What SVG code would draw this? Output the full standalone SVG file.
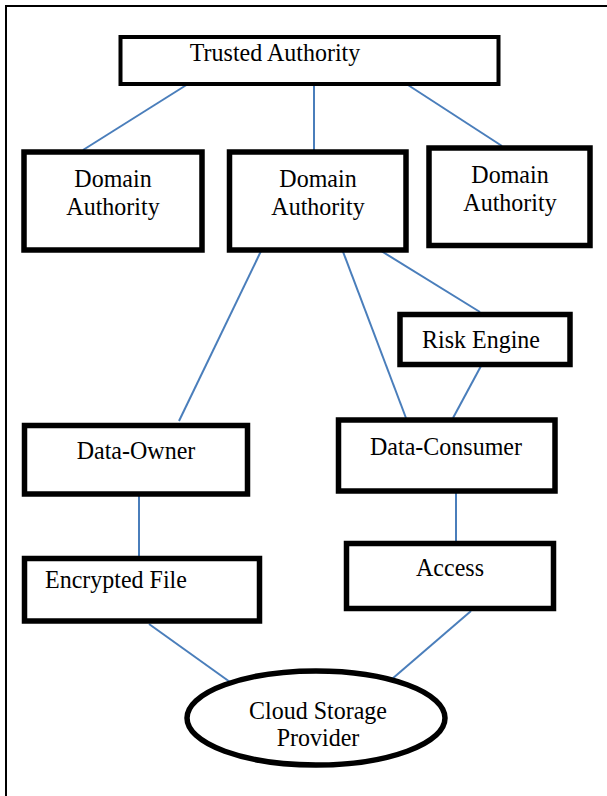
<svg xmlns="http://www.w3.org/2000/svg" width="607" height="796" viewBox="0 0 607 796">
  <style>
    .box { fill: #ffffff; stroke: #000000; stroke-width: 5.5; }
    .thin { stroke-width: 4; }
    .label { font-family: "Liberation Serif", "Times New Roman", serif; font-size: 24px; fill: #000000; }
    .mid { text-anchor: middle; }
    .link { stroke: #4a7ebb; stroke-width: 2; fill: none; }
    .frame { stroke: #000000; stroke-width: 2; fill: none; }
  </style>

  <rect x="0" y="0" width="607" height="796" fill="#ffffff"/>

  <!-- page frame -->
  <path class="frame" d="M6 796 V6 H607"/>

  <!-- connectors -->
  <g id="connectors">
    <line class="link" x1="188" y1="84" x2="83" y2="150"/>
    <line class="link" x1="314" y1="84" x2="314" y2="150"/>
    <line class="link" x1="408" y1="85" x2="502" y2="146"/>
    <line class="link" x1="262" y1="249" x2="179" y2="421"/>
    <line class="link" x1="342" y1="249" x2="406" y2="418"/>
    <line class="link" x1="378" y1="249" x2="480" y2="312"/>
    <line class="link" x1="481" y1="366" x2="453" y2="418"/>
    <line class="link" x1="139" y1="495" x2="139" y2="557"/>
    <line class="link" x1="456" y1="492" x2="456" y2="542"/>
    <line class="link" x1="149" y1="624" x2="230" y2="682"/>
    <line class="link" x1="471" y1="611" x2="392" y2="679"/>
  </g>

  <!-- labels are set slightly tall, hence the vertical scale -->
  <g id="trusted-authority">
    <rect class="box thin" x="120.5" y="37" width="378" height="47"/>
    <text class="label mid" transform="translate(275 61) scale(1 1.08)">Trusted Authority</text>
  </g>

  <g id="domain-authority-1">
    <rect class="box" x="24" y="152" width="178" height="98"/>
    <text class="label mid" transform="translate(113 187) scale(1 1.08)">Domain</text>
    <text class="label mid" transform="translate(113 215) scale(1 1.08)">Authority</text>
  </g>

  <g id="domain-authority-2">
    <rect class="box" x="229.5" y="152" width="176.5" height="98"/>
    <text class="label mid" transform="translate(318 187) scale(1 1.08)">Domain</text>
    <text class="label mid" transform="translate(318 215) scale(1 1.08)">Authority</text>
  </g>

  <g id="domain-authority-3">
    <rect class="box" x="429" y="148" width="161" height="97.5"/>
    <text class="label mid" transform="translate(510 183) scale(1 1.08)">Domain</text>
    <text class="label mid" transform="translate(510 211) scale(1 1.08)">Authority</text>
  </g>

  <g id="risk-engine">
    <rect class="box" x="400" y="314.5" width="170" height="50"/>
    <text class="label mid" transform="translate(481 348) scale(1 1.08)">Risk Engine</text>
  </g>

  <g id="data-owner">
    <rect class="box" x="24.5" y="425.5" width="223" height="68.5"/>
    <text class="label mid" transform="translate(136 459) scale(1 1.08)">Data-Owner</text>
  </g>

  <g id="data-consumer">
    <rect class="box" x="338.5" y="420" width="216.5" height="71"/>
    <text class="label mid" transform="translate(446 455) scale(1 1.08)">Data-Consumer</text>
  </g>

  <g id="encrypted-file">
    <rect class="box" x="24.5" y="558.5" width="235" height="62.5"/>
    <text class="label" transform="translate(45 588) scale(1 1.08)">Encrypted File</text>
  </g>

  <g id="access">
    <rect class="box" x="346.5" y="543.5" width="207" height="65"/>
    <text class="label mid" transform="translate(450 576) scale(1 1.08)">Access</text>
  </g>

  <g id="cloud-storage-provider">
    <ellipse class="box" cx="316" cy="718" rx="129" ry="47"/>
    <text class="label mid" transform="translate(318 719) scale(1 1.08)">Cloud Storage</text>
    <text class="label mid" transform="translate(318 746) scale(1 1.08)">Provider</text>
  </g>
</svg>
